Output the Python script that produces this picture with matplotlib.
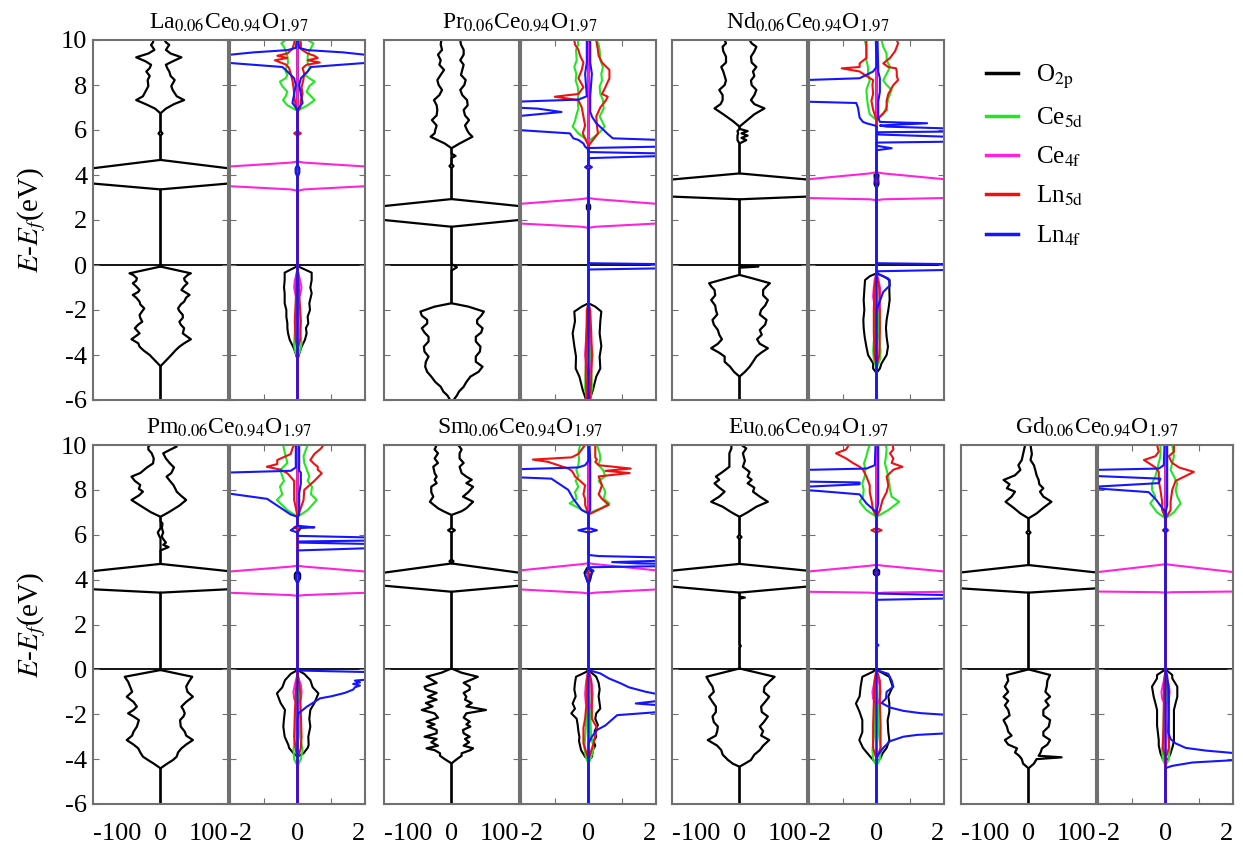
import matplotlib
matplotlib.use("Agg")
import matplotlib.pyplot as plt
from matplotlib.lines import Line2D

plt.rcParams['font.family'] = ['Liberation Serif', 'DejaVu Serif']
plt.rcParams['mathtext.fontset'] = 'stix'
plt.rcParams['axes.unicode_minus'] = False

# each curve: (energy eV, spin-up DOS, spin-down DOS as magnitude)
# ---------------- La ----------------
la_tot = [(-4.5,0,0),(-4.25,8,8),(-4.0,16,16),(-3.8,22,25),(-3.63,28,31),(-3.48,35,33),(-3.3,45,43),(-3.15,38,36),
          (-3.04,33,31),(-2.81,35,38),(-2.65,30,33),(-2.52,28,27),(-2.35,33,30),(-2.22,33,31),(-2.05,28,27),(-1.93,26,24),
          (-1.75,30,30),(-1.63,35,31),(-1.45,38,36),(-1.33,43,41),(-1.2,36,33),(-1.11,31,31),(-0.95,35,36),(-0.81,40,41),
          (-0.7,36,36),(-0.59,35,35),(-0.45,40,40),(-0.37,45,46),(-0.07,0,0),
          (3.36,0,0),(3.62,100,100),(3.95,500,500),(4.3,100,100),(4.67,0,0),
          (5.75,0,0),(5.85,3,3),(5.95,0,0),
          (6.74,0,0),(6.95,8,8),(7.15,20,22),(7.33,35,36),(7.5,24,26),(7.78,18,21),(7.95,16,18),(8.22,21,19),(8.4,15,16),
          (8.6,13,21),(8.75,10,16),(8.9,8,14),(9.05,18,22),(9.23,31,36),(9.4,15,18),(9.56,8,9),(9.7,11,12),(9.78,13,14),
          (9.9,8,11),(10,6,11)]
la_o2p = [(-4.2,0,0),(-3.9,0.06,0.06),(-3.63,0.12,0.13),(-3.33,0.22,0.23),(-3.04,0.27,0.28),(-2.8,0.25,0.3),(-2.6,0.32,0.3),
          (-2.3,0.3,0.33),(-2.0,0.37,0.33),(-1.7,0.35,0.38),(-1.26,0.42,0.38),(-1.0,0.38,0.4),(-0.67,0.42,0.38),(-0.34,0.42,0.38),
          (-0.05,0,0),(3.95,0,0),(4.1,0.05,0.05),(4.3,0.05,0.05),(4.45,0,0)]
la_ce5d = [(-4.1,0,0),(-3.8,0.08,0.08),(-3.5,0.12,0.1),(-3.0,0.08,0.08),(-2.5,0.06,0.05),(-1.5,0.04,0.04),(-0.1,0,0),
           (6.85,0,0),(7.1,0.3,0.3),(7.33,0.51,0.43),(7.5,0.4,0.35),(7.7,0.27,0.3),(7.95,0.35,0.45),(8.15,0.51,0.52),(8.3,0.35,0.35),
           (8.44,0.22,0.3),(8.6,0.3,0.35),(8.8,0.37,0.33),(9.0,0.3,0.28),(9.26,0.3,0.3),(9.5,0.35,0.35),(9.7,0.42,0.4),
           (9.85,0.47,0.48),(10,0.3,0.35)]
la_ce4f = [(-1.6,0,0),(-1.3,0.08,0.06),(-1.0,0.12,0.1),(-0.7,0.08,0.08),(-0.4,0.03,0.03),(-0.2,0,0),
           (3.3,0,0),(3.36,0.2,0.2),(3.51,2.1,2.1),(3.95,20,20),(4.37,2.1,2.1),(4.55,0.2,0.2),(4.6,0,0)]
la_ln5d = [(-3.8,0,0),(-3.3,0.08,0.06),(-2.5,0.1,0.08),(-1.5,0.06,0.05),(-0.5,0.03,0.03),(-0.1,0,0),
           (5.75,0,0),(5.85,0.1,0.1),(5.95,0,0),
           (6.8,0,0),(7.0,0.08,0.05),(7.33,0.1,0.08),(7.6,0.15,0.1),(7.9,0.12,0.12),(8.2,0.17,0.15),(8.5,0.2,0.2),(8.75,0.15,0.25),
           (8.9,0.27,0.33),(9.0,0.66,0.5),(9.1,0.3,0.67),(9.2,0.6,0.3),(9.3,0.5,0.6),(9.4,0.3,0.3),(9.6,0.1,0.15),(9.85,0.1,0.1),
           (10,0.08,0.08)]
la_ln4f = [(3.9,0,0),(4.1,0.05,0.05),(4.3,0.05,0.05),(4.4,0,0),
           (6.9,0,0),(7.2,0.15,0.15),(7.6,0.1,0.1),(8.0,0.05,0.05),(8.3,0.1,0.1),(8.6,0.3,0.3),(8.8,0.4,0.45),(8.99,2.1,2.1),
           (9.15,5,5),(9.33,2.1,2.1),(9.45,1.35,1.3),(9.55,0.3,0.3),(9.65,0.05,0.05),(10,0.02,0.02)]

# ---------------- Pr ----------------
pr_tot = [(-6,3,2),(-5.8,8,6),(-5.63,11,12),(-5.41,18,16),(-5.2,22,24),(-4.96,28,30),(-4.75,40,36),(-4.52,46,39),(-4.3,36,38),
          (-4.07,36,34),(-3.85,42,40),(-3.63,43,41),(-3.4,36,34),(-3.19,36,34),(-3.0,44,40),(-2.81,46,44),(-2.6,38,36),
          (-2.44,38,36),(-2.25,44,44),(-2.07,48,46),(-1.85,25,25),(-1.7,0,0),
          (-0.25,0,0),(-0.1,8,0),(0.05,0,0),
          (1.7,0,0),(2.0,100,100),(2.3,500,500),(2.62,100,100),(2.93,0,0),
          (4.3,0,0),(4.4,3,3),(4.5,0,0),(4.75,0,0),(4.85,6,0),(4.95,0,0),
          (5.19,0,0),(5.4,12,10),(5.7,31,31),(5.85,26,25),(6.0,23,24),(6.2,20,22),(6.44,26,29),(6.65,20,22),(6.89,18,21),
          (7.1,24,22),(7.33,23,26),(7.55,16,18),(7.78,13,14),(8.0,19,19),(8.22,21,21),(8.45,14,16),(8.67,16,11),(8.9,18,18),
          (9.1,13,16),(9.35,18,20),(9.56,18,14),(9.8,14,16),(10,13,15)]
pr_o2p = [(-6,0.03,0.07),(-5.56,0.13,0.17),(-4.96,0.23,0.27),(-4.6,0.35,0.38),(-4.07,0.33,0.37),(-3.6,0.38,0.42),
          (-3.04,0.33,0.47),(-2.5,0.35,0.4),(-2.07,0.38,0.42),(-1.85,0.2,0.2),(-1.7,0,0),
          (2.4,0,0),(2.5,0.05,0.05),(2.65,0.05,0.05),(2.75,0,0)]
pr_ce5d = [(-6,0.05,0.05),(-5.5,0.1,0.1),(-4.5,0.08,0.08),(-3.5,0.06,0.06),(-2.5,0.04,0.04),(-1.7,0,0),
           (5.5,0,0),(5.85,0.3,0.3),(6.15,0.48,0.47),(6.4,0.4,0.4),(6.6,0.33,0.37),(6.95,0.45,0.3),(7.33,0.43,0.32),(7.6,0.35,0.3),
           (7.93,0.33,0.32),(8.2,0.4,0.38),(8.5,0.38,0.36),(8.8,0.43,0.42),(9.1,0.35,0.35),(9.56,0.33,0.37),(9.8,0.3,0.3),
           (10,0.23,0.32)]
pr_ce4f = [(-5.0,0,0),(-4.5,0.08,0.06),(-4.0,0.12,0.1),(-3.5,0.08,0.08),(-2.5,0.04,0.03),(-1.8,0,0),
           (1.65,0,0),(1.7,0.2,0.2),(1.85,2.1,2.1),(2.3,20,20),(2.71,2.1,2.1),(2.93,0.2,0.2),(2.98,0,0)]
pr_ln5d = [(-6,0.05,0.05),(-5,0.08,0.08),(-4,0.1,0.08),(-3,0.08,0.06),(-2,0.05,0.05),(-1.7,0,0),
           (5.3,0,0),(5.85,0.28,0.17),(6.2,0.25,0.1),(6.6,0.23,0.15),(7.0,0.35,0.2),(7.33,0.52,0.3),(7.48,0.57,1.0),(7.6,0.4,0.3),
           (7.9,0.5,0.15),(8.3,0.62,0.3),(8.67,0.62,0.2),(9.0,0.4,0.15),(9.3,0.3,0.25),(9.56,0.28,0.3),(9.8,0.25,0.4),
           (10,0.23,0.42)]
pr_ln4f = [(-0.2,0,0),(-0.15,2.1,0),(-0.05,5,0),(0.04,2.1,0),(0.08,0,0),
           (4.25,0,0),(4.35,0.1,0.1),(4.45,0,0),
           (4.75,0,0),(4.84,2.1,0),(4.9,5,0),(4.96,2.1,0),(5.02,0,0),(5.1,0,0),(5.2,0,0.05),(5.26,2.1,0.1),(5.4,5,0.15),
           (5.56,2.1,0.3),(5.63,0.72,0.45),(5.85,0.55,0.55),(6.0,0.45,2.1),(6.3,0.23,5),(6.6,0.1,2.2),(6.7,0.08,1.5),
           (6.8,0.05,0.8),(6.95,0.05,1.5),(7.0,0.05,2.2),(7.1,0.05,5),(7.26,0.05,2.1),(7.35,0.05,0.3),(7.5,0.05,0.05),
           (8.5,0.1,0.1),(9,0.05,0.05),(10,0.05,0.05)]

# ---------------- Nd ----------------
nd_tot = [(-4.96,0,0),(-4.75,8,8),(-4.52,15,14),(-4.3,20,22),(-4.07,25,22),(-3.9,32,30),(-3.7,42,42),(-3.5,30,32),
          (-3.3,26,26),(-3.1,33,30),(-2.89,30,32),(-2.65,38,38),(-2.44,40,40),(-2.2,30,33),(-2.0,32,35),(-1.8,38,36),
          (-1.56,42,42),(-1.35,35,36),(-1.11,35,37),(-0.95,40,42),(-0.81,45,45),(-0.6,20,20),(-0.44,0,0),
          (-0.12,0,0),(-0.07,28,0),(-0.02,0,0),
          (2.92,0,0),(3.04,100,100),(3.4,500,500),(3.8,100,100),(4.07,0,0),
          (5.4,0,0),(5.55,10,3),(5.65,3,3),(5.75,12,3),(5.85,3,2),(5.95,12,3),(6.05,0,0),
          (6.15,0,0),(6.4,10,10),(6.7,22,24),(6.96,37,37),(7.15,22,28),(7.33,17,25),(7.55,22,25),(7.78,25,30),(8.0,18,22),
          (8.2,17,20),(8.4,22,22),(8.6,20,24),(8.8,25,27),(9.0,18,20),(9.26,17,20),(9.5,22,24),(9.7,25,25),(9.85,18,20),
          (10,15,22)]
nd_o2p = [(-4.8,0,0),(-4.6,0.1,0.1),(-4.37,0.15,0.1),(-4.0,0.3,0.25),(-3.63,0.34,0.3),(-3.2,0.3,0.35),(-2.8,0.28,0.38),
          (-2.44,0.3,0.39),(-2.0,0.35,0.36),(-1.56,0.39,0.38),(-1.1,0.38,0.36),(-0.67,0.39,0.34),(-0.5,0.2,0.2),(-0.37,0,0),
          (3.4,0,0),(3.6,0.06,0.06),(3.8,0.05,0.05),(4.0,0.06,0.06),(4.1,0,0)]
nd_ce5d = [(-4.6,0,0),(-4.2,0.1,0.08),(-3.8,0.12,0.1),(-3.0,0.06,0.06),(-2.0,0.04,0.04),(-0.4,0,0),
           (6.44,0,0),(6.7,0.2,0.2),(7.04,0.3,0.25),(7.4,0.35,0.28),(7.78,0.45,0.3),(8.0,0.3,0.25),(8.2,0.2,0.2),(8.5,0.3,0.25),
           (8.8,0.4,0.25),(9.1,0.3,0.3),(9.4,0.3,0.3),(9.7,0.2,0.3),(10,0.15,0.35)]
nd_ce4f = [(-2.2,0,0),(-1.8,0.08,0.06),(-1.4,0.12,0.1),(-1.0,0.1,0.08),(-0.6,0.05,0.05),(-0.4,0,0),
           (2.88,0,0),(2.92,0.2,0.2),(2.98,2.1,2.1),(3.4,20,20),(3.8,2.1,2.1),(4.07,0.2,0.2),(4.12,0,0)]
nd_ln5d = [(-4.5,0,0),(-4.0,0.08,0.06),(-3.0,0.1,0.08),(-2.0,0.1,0.08),(-1.0,0.08,0.06),(-0.4,0,0),
           (6.44,0,0),(6.9,0.3,0.1),(7.3,0.3,0.15),(7.6,0.35,0.1),(8.0,0.5,0.12),(8.22,0.64,0.1),(8.4,0.6,0.3),(8.6,0.6,0.5),
           (8.74,0.58,1.03),(8.8,0.35,0.5),(8.96,0.2,0.5),(9.2,0.4,0.3),(9.5,0.55,0.3),(9.85,0.64,0.3),(10,0.6,0.3)]
nd_ln4f = [(-2.0,0,0),(-1.6,0.1,0),(-1.2,0.2,0),(-0.9,0.4,0),(-0.6,0.35,0),(-0.4,0.05,0),(-0.28,0,0),(-0.22,2.1,0),
           (-0.1,5,0),(0.04,2.1,0),(0.08,0,0),
           (3.5,0,0),(3.7,0.05,0.05),(3.9,0.03,0.03),(4.0,0,0),
           (5.1,0,0),(5.19,0.45,0),(5.3,0,0),(5.44,0,0),(5.48,2.1,0),(5.6,5,0),(5.7,2.1,0),(5.8,0.05,0),(5.9,0.05,0),
           (5.93,2.1,0),(6.0,5,0),(6.07,2.1,0),(6.15,0.3,0),(6.2,0.1,0.05),(6.3,1.5,0.3),(6.36,0.1,0.4),(6.55,0.05,0.5),
           (7.0,0.05,0.55),(7.2,0.05,0.6),(7.26,0.05,2.1),(7.7,0.1,5),(8.22,0.1,2.1),(8.3,0.1,0.5),(8.6,0.05,0.1),
           (8.8,0.05,0),(10,0.03,0.02)]

# ---------------- Pm ----------------
pm_tot = [(-4.41,0,0),(-4.2,10,10),(-4.05,18,18),(-3.89,24,26),(-3.7,26,30),(-3.52,31,33),(-3.35,38,40),(-3.15,48,50),
          (-2.95,38,42),(-2.78,36,40),(-2.55,30,35),(-2.26,29,32),(-2.1,34,40),(-1.96,36,48),(-1.81,34,40),(-1.66,31,35),
          (-1.45,38,40),(-1.22,48,50),(-1.0,40,42),(-0.77,38,45),(-0.55,42,48),(-0.33,47,53),(-0.03,0,0),
          (3.42,0,0),(3.57,100,100),(3.95,500,500),(4.38,100,100),(4.7,0,0),
          (5.3,0,0),(5.45,12,0),(5.55,4,0),(5.65,8,0),(5.85,3,0),(5.95,2,2),(6.1,4,4),(6.3,2,0),(6.5,3,0),(6.6,0,0),
          (6.8,0,0),(7.0,12,14),(7.3,28,30),(7.55,38,43),(7.75,30,32),(7.92,24,26),(8.05,22,32),(8.22,19,30),(8.4,14,38),
          (8.59,9,43),(8.75,16,30),(9.0,20,20),(9.18,14,11),(9.4,8,10),(9.63,4,13),(9.8,15,18),(9.93,24,18),(10,20,15)]
pm_o2p = [(-3.89,0,0),(-3.74,0.18,0.12),(-3.5,0.3,0.25),(-3.37,0.33,0.27),(-3.0,0.32,0.38),(-2.55,0.38,0.42),
          (-2.2,0.35,0.4),(-1.81,0.38,0.37),(-1.5,0.5,0.5),(-1.07,0.62,0.61),(-0.8,0.45,0.45),(-0.48,0.38,0.37),
          (-0.2,0.2,0.2),(-0.03,0,0),
          (3.9,0,0),(4.05,0.08,0.08),(4.25,0.08,0.08),(4.4,0,0)]
pm_ce5d = [(-4.3,0,0),(-4.0,0.1,0.1),(-3.6,0.15,0.12),(-3.0,0.08,0.08),(-2.0,0.05,0.05),(-0.1,0,0),
           (6.8,0,0),(7.1,0.3,0.3),(7.55,0.57,0.61),(7.8,0.4,0.45),(8.14,0.43,0.52),(8.4,0.3,0.4),(8.6,0.35,0.45),
           (8.89,0.28,0.51),(9.2,0.2,0.3),(9.5,0.18,0.35),(9.8,0.25,0.4),(10,0.3,0.42)]
pm_ce4f = [(-1.6,0,0),(-1.3,0.1,0.1),(-1.0,0.12,0.12),(-0.7,0.1,0.08),(-0.4,0.03,0.03),(-0.2,0,0),
           (3.28,0,0),(3.31,0.2,0.2),(3.42,2.1,2.1),(3.9,20,20),(4.35,2.1,2.1),(4.58,0.2,0.2),(4.62,0,0)]
pm_ln5d = [(-4.0,0,0),(-3.5,0.1,0.06),(-3.0,0.12,0.1),(-2.0,0.1,0.08),(-1.0,0.08,0.05),(-0.1,0,0),
           (6.25,0,0),(6.33,0.15,0.1),(6.4,0,0),
           (6.8,0,0),(7.2,0.1,0.05),(7.55,0.18,0.1),(8.0,0.2,0.1),(8.4,0.5,0.1),(8.74,0.72,0.3),(8.9,0.6,0.5),(9.03,0.6,0.91),
           (9.15,0.5,0.6),(9.33,0.38,0.6),(9.6,0.5,0.2),(9.85,0.7,0.15),(10,0.77,0.1)]
pm_ln4f = [(-2.2,0,0),(-1.96,0.03,0),(-1.66,0.28,0),(-1.5,0.45,0),(-1.29,0.67,0),(-1.2,1.0,0),(-1.05,1.4,0),(-0.9,1.65,0),
           (-0.8,1.7,0),(-0.72,1.85,0),(-0.65,1.65,0),(-0.58,1.85,0),(-0.5,1.7,0),(-0.45,2.1,0),(-0.3,3,0),(-0.12,2.1,0),
           (-0.05,0,0),
           (3.8,0,0),(4.0,0.05,0.05),(4.2,0.05,0.05),(4.35,0,0),
           (5.3,0,0),(5.4,2.1,0),(5.5,5,0),(5.59,2.1,0),(5.65,0.05,0),(5.7,0.05,0),(5.74,2.1,0),(5.8,5,0),(5.88,2.1,0),
           (5.95,0,0),(6.1,0,0),(6.2,0.05,0.2),(6.3,0.1,0.1),(6.33,0.5,0.05),(6.4,0,0),
           (6.8,0,0),(6.9,0.05,0.2),(7.3,0.05,0.6),(7.6,0.05,0.9),(7.85,0.05,2.1),(8.3,0.1,5),(8.77,0.1,2.1),
           (8.85,0.05,0.2),(9.0,0.05,0.05),(10,0.05,0.05)]

# ---------------- Sm ----------------
sm_tot = [(-4.19,0,0),(-4.0,8,10),(-3.85,15,17),(-3.74,15,17),(-3.6,28,25),(-3.52,32,37),(-3.4,18,20),(-3.25,26,30),
          (-3.1,20,22),(-3.0,27,40),(-2.85,18,22),(-2.7,17,22),(-2.55,28,35),(-2.45,22,25),(-2.33,27,37),(-2.15,18,20),
          (-1.96,22,25),(-1.81,51,44),(-1.65,22,28),(-1.5,30,38),(-1.35,20,22),(-1.22,22,35),(-1.05,18,22),(-0.9,27,38),
          (-0.77,27,40),(-0.6,18,22),(-0.45,30,30),(-0.33,39,37),(-0.15,15,15),(0.04,0,0),
          (3.46,0,0),(3.73,100,100),(4.0,500,500),(4.31,100,100),(4.72,0,0),
          (4.75,0,0),(4.82,3,3),(4.9,0,0),(6.1,0,0),(6.2,5,5),(6.3,0,0),
          (6.88,0,0),(7.05,15,12),(7.18,22,20),(7.47,32,32),(7.7,17,27),(7.9,25,30),(8.14,32,30),(8.3,22,22),(8.45,30,25),
          (8.59,22,22),(8.75,15,25),(9.03,12,27),(9.2,18,20),(9.4,12,25),(9.63,12,20),(9.8,15,25),(10,10,22)]
sm_o2p = [(-4.04,0,0),(-3.9,0.1,0.1),(-3.6,0.13,0.22),(-3.4,0.2,0.25),(-3.2,0.15,0.28),(-3.0,0.23,0.27),(-2.75,0.18,0.3),
          (-2.48,0.28,0.32),(-2.2,0.2,0.35),(-1.96,0.23,0.51),(-1.75,0.35,0.4),(-1.52,0.33,0.47),(-1.2,0.3,0.38),
          (-0.9,0.33,0.42),(-0.6,0.3,0.4),(-0.33,0.23,0.37),(-0.1,0.05,0.05),(0.04,0,0),
          (3.8,0,0),(4.0,0.05,0.05),(4.3,0.1,0.12),(4.5,0.05,0.05),(4.6,0,0)]
sm_ce5d = [(-4.2,0,0),(-3.9,0.08,0.08),(-3.5,0.15,0.12),(-3.0,0.08,0.1),(-2.0,0.05,0.05),(0,0,0),
           (6.95,0,0),(7.2,0.4,0.3),(7.4,0.62,0.56),(7.6,0.45,0.35),(7.9,0.5,0.4),(8.14,0.43,0.3),(8.4,0.3,0.38),(8.6,0.5,0.3),
           (8.89,0.43,0.36),(9.1,0.3,0.3),(9.4,0.35,0.28),(9.63,0.33,0.3),(10,0.25,0.25)]
sm_ce4f = [(-1.8,0,0),(-1.5,0.1,0.08),(-1.1,0.12,0.1),(-0.7,0.1,0.08),(-0.3,0.04,0.04),(0,0,0),
           (3.38,0,0),(3.42,0.2,0.2),(3.57,2.1,2.1),(4.0,20,20),(4.4,2.1,2.1),(4.69,0.2,0.2),(4.73,0,0)]
sm_ln5d = [(-4.0,0,0),(-3.3,0.15,0.15),(-2.6,0.25,0.15),(-2.2,0.1,0.1),(-1.5,0.1,0.06),(-0.5,0.08,0.05),(0,0,0),
           (6.9,0,0),(7.33,0.6,0.1),(7.6,0.4,0.1),(7.8,0.3,0.15),(8.2,0.4,0.1),(8.6,0.3,0.4),(8.75,1.22,0.45),(8.85,0.5,0.5),
           (8.95,1.25,0.6),(9.1,0.3,0.9),(9.25,0.2,1.2),(9.35,0.25,1.65),(9.45,0.2,0.5),(9.6,0.2,0.3),(10,0.2,0.1)]
sm_ln4f = [(-3.3,0,0),(-3.0,0.1,0),(-2.7,0.25,0),(-2.5,0.5,0),(-2.3,0.65,0),(-2.04,0.85,0),(-1.9,2.1,0),(-1.75,2.6,0),
           (-1.6,2.1,0),(-1.52,1.4,0),(-1.4,2.1,0),(-1.25,2.6,0),(-1.12,2.1,0),(-1.0,1.7,0),(-0.8,1.2,0),(-0.62,0.95,0),
           (-0.4,0.6,0),(-0.18,0.35,0),(-0.03,0,0),
           (3.8,0,0),(4.0,0.03,0.05),(4.2,0.05,0.1),(4.4,0.15,0.05),(4.5,0,0),
           (4.55,0,0),(4.6,2.1,0),(4.66,5,0),(4.72,1.5,0),(4.78,0.7,0),(4.84,2.1,0),(4.9,5,0),(4.99,2.1,0),(5.05,0.3,0),
           (5.1,0,0),(6.1,0,0),(6.2,0.25,0.3),(6.3,0,0),
           (6.95,0,0),(7.1,0.05,0.2),(7.6,0.05,0.45),(8.0,0.05,0.6),(8.3,0.05,0.9),(8.5,0.05,1.1),(8.56,0.05,2.1),
           (8.7,0.05,5),(8.92,0.05,2.1),(9.0,0.05,0.3),(9.1,0.05,0.1),(9.3,0.05,0),(10,0.03,0)]

# ---------------- Eu ----------------
eu_tot = [(-4.34,0,0),(-4.2,8,10),(-4.04,17,17),(-3.8,22,25),(-3.6,30,27),(-3.4,35,33),(-3.15,44,47),(-2.95,32,35),
          (-2.75,35,33),(-2.55,30,32),(-2.35,36,38),(-2.1,42,40),(-1.9,33,35),(-1.66,32,35),(-1.45,38,40),(-1.22,44,45),
          (-1.0,36,38),(-0.77,37,40),(-0.55,44,45),(-0.33,52,49),(0.04,0,0),
          (0.95,0,0),(1.05,2,0),(1.12,0,0),(3.15,0,0),(3.2,8,0),(3.25,0,0),
          (3.42,0,0),(3.69,100,100),(4.0,500,500),(4.4,100,100),(4.7,0,0),
          (5.8,0,0),(5.9,3,3),(6.0,0,0),
          (6.8,0,0),(7.0,12,12),(7.25,25,25),(7.47,42,42),(7.7,30,30),(7.92,20,22),(8.1,22,30),(8.29,12,37),(8.45,18,30),
          (8.59,12,35),(8.8,15,25),(9.03,5,15),(9.3,8,15),(9.63,5,15),(9.85,10,12),(10,3,12)]
eu_o2p = [(-4.19,0,0),(-3.95,0.12,0.15),(-3.74,0.18,0.27),(-3.5,0.3,0.4),(-3.15,0.38,0.51),(-2.8,0.35,0.42),
          (-2.26,0.33,0.42),(-1.9,0.38,0.5),(-1.52,0.38,0.61),(-1.2,0.35,0.5),(-0.77,0.48,0.47),(-0.33,0.38,0.42),
          (-0.1,0.1,0.1),(0.04,0,0),
          (4.15,0,0),(4.25,0.08,0.08),(4.4,0.08,0.08),(4.5,0,0)]
eu_ce5d = [(-4.3,0,0),(-4.0,0.1,0.1),(-3.6,0.13,0.12),(-3.0,0.08,0.08),(-2.0,0.05,0.05),(0,0,0),
           (6.8,0,0),(7.1,0.35,0.3),(7.47,0.67,0.5),(7.7,0.45,0.4),(8.0,0.4,0.38),(8.29,0.38,0.42),(8.6,0.35,0.35),
           (8.9,0.3,0.33),(9.18,0.25,0.37),(9.5,0.28,0.3),(9.8,0.3,0.25),(10,0.28,0.2)]
eu_ce4f = [(-1.6,0,0),(-1.3,0.1,0.1),(-1.0,0.12,0.12),(-0.7,0.1,0.08),(-0.4,0.03,0.03),(-0.2,0,0),
           (3.39,0,0),(3.42,0.2,0.2),(3.46,2.1,2.1),(4.0,20,20),(4.35,2.1,2.1),(4.62,0.2,0.2),(4.66,0,0)]
eu_ln5d = [(-4.0,0,0),(-3.5,0.12,0.1),(-2.5,0.12,0.1),(-1.5,0.1,0.08),(-0.5,0.1,0.06),(0,0,0),
           (6.1,0,0),(6.2,0.15,0.15),(6.3,0,0),
           (6.8,0,0),(7.1,0.1,0.1),(7.55,0.18,0.15),(7.9,0.3,0.2),(8.2,0.35,0.2),(8.6,0.3,0.3),(8.9,0.5,0.4),(9.03,0.77,0.5),
           (9.2,0.45,0.7),(9.4,0.5,0.9),(9.63,0.4,1.2),(9.8,0.5,0.9),(10,0.48,0.82)]
eu_ln4f = [(-4.0,0,0),(-3.8,0.05,0),(-3.5,0.2,0),(-3.2,0.4,0),(-3.0,0.8,0),(-2.92,1.2,0),(-2.85,2.1,0),(-2.4,5,0),
           (-2.03,2.1,0),(-1.95,1.3,0),(-1.85,0.8,0),(-1.7,0.4,0),(-1.5,0.15,0),(-1.3,0.28,0),(-1.0,0.3,0),(-0.77,0.5,0),
           (-0.5,0.45,0),(-0.2,0.35,0),(-0.03,0,0),
           (1.0,0,0),(1.08,0.06,0),(1.15,0,0),
           (3.1,0,0),(3.16,2.1,0),(3.23,5,0),(3.31,2.1,0),(3.38,0,0),
           (4.1,0,0),(4.3,0.05,0.05),(4.5,0,0),
           (7.0,0,0),(7.4,0.05,0.3),(7.8,0.05,0.5),(7.95,0.05,1.7),(8.0,0.05,2.2),(8.07,0.05,4),(8.14,0.05,2.1),
           (8.25,0.05,0.5),(8.33,0.05,0.5),(8.37,0.05,2.1),(8.6,0.05,5),(8.89,0.05,2.1),(8.95,0.05,0.3),(9.1,0.05,0.05),
           (10,0.05,0.03)]

# ---------------- Gd ----------------
gd_tot = [(-4.41,0,0),(-4.2,8,8),(-4.0,12,10),(-3.92,49,12),(-3.85,15,14),(-3.7,18,20),(-3.52,20,17),(-3.35,28,30),
          (-3.15,32,35),(-2.95,22,25),(-2.78,22,30),(-2.55,30,32),(-2.26,32,37),(-2.05,22,28),(-1.81,22,30),(-1.6,30,35),
          (-1.4,25,30),(-1.22,32,37),(-1.0,25,30),(-0.77,27,35),(-0.5,28,30),(-0.25,32,32),(0,0,0),
          (3.42,0,0),(3.61,100,100),(4.0,500,500),(4.32,100,100),(4.65,0,0),
          (6.0,0,0),(6.1,3,3),(6.2,0,0),
          (6.73,0,0),(6.95,12,12),(7.2,22,22),(7.47,34,34),(7.7,22,25),(7.92,17,20),(8.07,22,32),(8.25,16,28),(8.44,15,37),
          (8.65,12,20),(8.89,10,12),(9.1,8,15),(9.33,3,10),(9.6,5,8),(10,3,5)]
gd_o2p = [(-4.19,0,0),(-4.0,0.08,0.08),(-3.74,0.15,0.15),(-3.4,0.22,0.2),(-3.15,0.25,0.2),(-2.5,0.25,0.25),
          (-1.81,0.25,0.25),(-1.5,0.3,0.3),(-1.22,0.35,0.35),(-0.77,0.35,0.4),(-0.4,0.2,0.25),(-0.25,0.2,0.25),(0,0,0)]
gd_ce5d = [(-4.3,0,0),(-4.0,0.1,0.08),(-3.6,0.12,0.1),(-3.0,0.08,0.06),(-2.0,0.05,0.05),(0,0,0),
           (6.73,0,0),(7.0,0.25,0.25),(7.4,0.45,0.45),(7.7,0.35,0.3),(8.0,0.3,0.4),(8.29,0.35,0.4),(8.6,0.25,0.3),
           (8.89,0.15,0.25),(9.2,0.2,0.2),(9.5,0.25,0.15),(10,0.2,0.15)]
gd_ce4f = [(-1.6,0,0),(-1.3,0.1,0.1),(-1.0,0.12,0.12),(-0.7,0.1,0.08),(-0.4,0.03,0.03),(-0.2,0,0),
           (3.42,0,0),(3.44,0.2,0.2),(3.47,2.1,2.1),(4.0,20,20),(4.32,2.1,2.1),(4.65,0.2,0.2),(4.69,0,0)]
gd_ln5d = [(-4.0,0,0),(-3.5,0.1,0.08),(-2.5,0.1,0.06),(-1.5,0.08,0.05),(-0.5,0.05,0.04),(0,0,0),
           (6.1,0,0),(6.2,0.08,0.08),(6.3,0,0),
           (6.73,0,0),(7.1,0.15,0.1),(7.47,0.15,0.1),(8.0,0.2,0.15),(8.4,0.3,0.2),(8.8,0.84,0.2),(9.0,0.4,0.3),(9.2,0.2,0.5),
           (9.33,0.15,0.64),(9.5,0.1,0.3),(9.7,0.25,0.2),(10,0.25,0.25)]
gd_ln4f = [(-4.4,0,0),(-4.3,0.2,0),(-4.15,0.8,0),(-4.04,2.1,0),(-3.9,5,0),(-3.74,2.1,0),(-3.62,1.2,0),(-3.5,0.6,0),
           (-3.3,0.3,0),(-3.1,0.15,0),(-2.8,0.08,0),(-2.0,0.1,0),(-1.0,0.1,0),(-0.3,0.05,0),(0,0,0),
           (6.1,0,0),(6.2,0.05,0.05),(6.3,0,0),
           (7.0,0,0),(7.3,0.05,0.15),(7.6,0.05,0.3),(7.9,0.05,0.5),(8.07,0.05,2.1),(8.1,0.05,3),(8.14,0.05,2.1),
           (8.3,0.05,0.2),(8.5,0.05,0.15),(8.62,0.05,2.1),(8.75,0.05,5),(8.89,0.05,2.1),(8.95,0.05,0.2),(9.1,0.05,0.05),
           (10,0.05,0.03)]

elements = ["La", "Pr", "Nd", "Pm", "Sm", "Eu", "Gd"]
left_data = [la_tot, pr_tot, nd_tot, pm_tot, sm_tot, eu_tot, gd_tot]
right_data = [
    [la_o2p, la_ce5d, la_ce4f, la_ln5d, la_ln4f],
    [pr_o2p, pr_ce5d, pr_ce4f, pr_ln5d, pr_ln4f],
    [nd_o2p, nd_ce5d, nd_ce4f, nd_ln5d, nd_ln4f],
    [pm_o2p, pm_ce5d, pm_ce4f, pm_ln5d, pm_ln4f],
    [sm_o2p, sm_ce5d, sm_ce4f, sm_ln5d, sm_ln4f],
    [eu_o2p, eu_ce5d, eu_ce4f, eu_ln5d, eu_ln4f],
    [gd_o2p, gd_ce5d, gd_ce4f, gd_ln5d, gd_ln4f],
]
legend_labels = [r"O$_{\mathrm{2p}}$", r"Ce$_{\mathrm{5d}}$", r"Ce$_{\mathrm{4f}}$",
                 r"Ln$_{\mathrm{5d}}$", r"Ln$_{\mathrm{4f}}$"]
colors = ["black", "#22e622", "#ff22dd", "#ee1111", "#1515ff"]

W, H = 1243, 851
fig = plt.figure(figsize=(W / 100, H / 100), dpi=100)
FS = 17
TFS = 19
GRAY = "#707070"


def add_ax(x0, ytop, ybot, w=135):
    return fig.add_axes([x0 / W, 1 - ybot / H, w / W, (ybot - ytop) / H])


def draw(ax, pts, color, lw=1.5):
    E = [p[0] for p in pts]
    up = [p[1] for p in pts]
    dn = [-p[2] for p in pts]
    if E[0] > -6:
        E = [-6.5] + E; up = [0] + up; dn = [0] + dn
    if E[-1] < 10:
        E = E + [10.5]; up = up + [0]; dn = dn + [0]
    ax.plot(up, E, color=color, lw=lw, solid_joinstyle="round")
    ax.plot(dn, E, color=color, lw=lw, solid_joinstyle="round")


def style(ax, xlim, xt, xtl, show_y, show_x, xtick_len):
    ax.set_xlim(xlim)
    ax.set_ylim(-6, 10)
    ax.axhline(0, color="black", lw=1.3, zorder=1)
    for s in ax.spines.values():
        s.set_color(GRAY)
        s.set_linewidth(1.5)
    ax.set_yticks(range(-6, 11, 2))
    ax.set_xticks(xt)
    ax.tick_params(axis="y", direction="in", length=4, color=GRAY, left=True, right=True,
                   labelsize=TFS, labelleft=show_y, pad=4)
    ax.tick_params(axis="x", direction="in", length=xtick_len, color=GRAY, top=True, bottom=True,
                   labelsize=TFS, labelbottom=show_x, pad=14)
    if show_x:
        labs = ax.set_xticklabels(xtl)
        labs[0].set_horizontalalignment("left")
        labs[-1].set_horizontalalignment("right")


positions = [(93, 40, 400), (384, 40, 400), (672, 40, 400),
             (93, 445, 804), (384, 445, 804), (672, 445, 804), (961, 445, 804)]

for i, el in enumerate(elements):
    x0, yt, yb = positions[i]
    bottom_row = yt > 100
    first_col = x0 < 100
    axl = add_ax(x0, yt, yb)
    draw(axl, left_data[i], "black", lw=1.6)
    style(axl, (-100, 100), [-100, 0, 100], ["-100", "0", "100"], first_col, bottom_row, 0)
    axr = add_ax(x0 + 137, yt, yb)
    for pts, c in zip(right_data[i], colors):
        draw(axr, pts, c)
    style(axr, (-2, 2), [-2, -1, 0, 1, 2], ["-2", "", "0", "", "2"], False, bottom_row, 4)
    fig.text((x0 + 136) / W, 1 - (yt - 18) / H,
             el + r"$_{0.06}$Ce$_{0.94}$O$_{1.97}$", ha="center", va="center", fontsize=FS)

for yc in (220, 625):
    fig.text(32 / W, 1 - yc / H, r"$E$-$E_f$(eV)", rotation=90, ha="center", va="center", fontsize=21)

handles = [Line2D([0], [0], color=c, lw=2.5) for c in colors]
fig.legend(handles, legend_labels, loc="upper left", bbox_to_anchor=(963 / W, 1 - 40 / H),
           frameon=False, fontsize=18, handlelength=1.3, handletextpad=0.7, labelspacing=0.6)

fig.savefig("out.png", dpi=100)
